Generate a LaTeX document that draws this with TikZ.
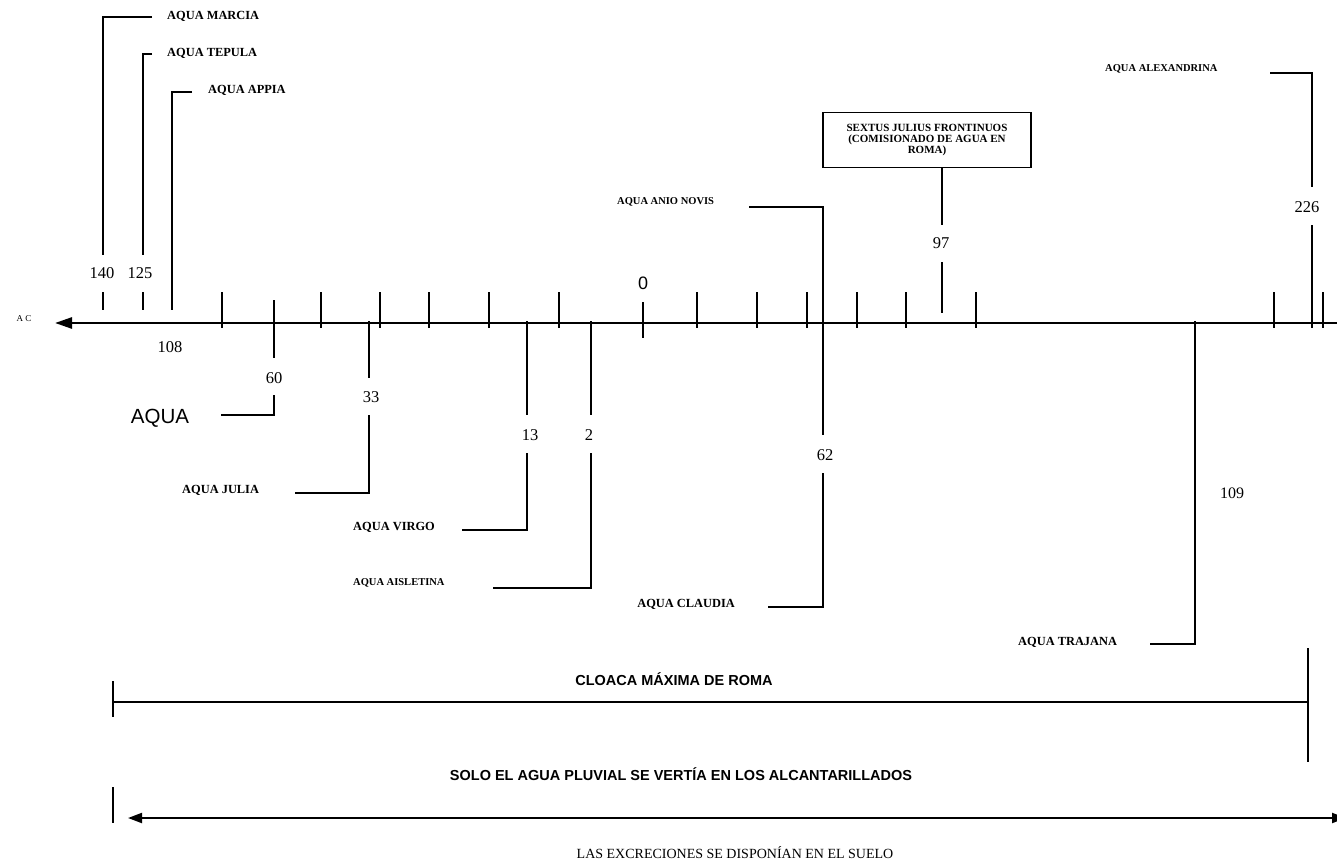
\documentclass[tikz,border=0pt]{standalone}
\usepackage{fontspec}
\setmainfont{Liberation Serif}
\newfontfamily\arial{Liberation Sans}
\usetikzlibrary{arrows.meta}
\begin{document}
\begin{tikzpicture}[x=1pt,y=-1pt,
  ln/.style={line width=1.9pt},
  tln/.style={line width=1.4pt},
  lab/.style={font=\fontsize{12.4}{13}\selectfont\bfseries, inner sep=0pt},
  slab/.style={font=\fontsize{10.5}{11}\selectfont\bfseries, inner sep=0pt},
  num/.style={font=\fontsize{16.5}{17}\selectfont, inner sep=0pt},
  big/.style={font=\arial\fontsize{20.5}{21}\selectfont, inner sep=0pt},
  head/.style={font=\arial\bfseries\fontsize{14.5}{15}\selectfont, inner sep=0pt},
  tick/.style={line width=1.9pt}
]
\useasboundingbox (0,0) rectangle (1337,861);

% ---------- main axis ----------
\coordinate (axR) at (1337,323);
\coordinate (axL) at (55,323);
\draw[line width=2.6pt,-{Triangle[length=17pt,width=11pt]}] (axR) -- (axL);
\node[font=\fontsize{9}{9}\selectfont, inner sep=0pt] (ac) at (24,319) {A C};

\foreach \x in {222,321,380,429,489,559,697,757,807,857,906,976,1274,1323}
  \draw[tick] (\x,292) -- (\x,328);

% ---------- 0 ----------
\draw[tick] (643,302) -- (643,338);
\node[font=\arial\fontsize{18}{18}\selectfont, inner sep=0pt] (n0) at (643,283) {0};

% ---------- upper labels, left ----------
\node[lab, anchor=west] (marcia) at (167,16) {AQUA MARCIA};
\node[lab, anchor=west] (tepula) at (167,53) {AQUA TEPULA};
\node[lab, anchor=west] (appia) at (208,90) {AQUA APPIA};
\node[num] (n140) at (102,273) {140};
\node[num] (n125) at (140,273) {125};
\node[num] (n108) at (170,347) {108};

\coordinate (m1) at (152,17);  \coordinate (m2) at (103,17);
\coordinate (m3) at (103,255); \coordinate (m4) at (103,292); \coordinate (m5) at (103,310);
\draw[ln] (m1) -- (m2) -- (m3);
\draw[ln] (m4) -- (m5);

\coordinate (t1) at (152,54);  \coordinate (t2) at (143,54);
\coordinate (t3) at (143,255); \coordinate (t4) at (143,292); \coordinate (t5) at (143,310);
\draw[ln] (t1) -- (t2) -- (t3);
\draw[ln] (t4) -- (t5);

\coordinate (a1) at (192,92); \coordinate (a2) at (172,92); \coordinate (a3) at (172,310);
\draw[ln] (a1) -- (a2) -- (a3);

% ---------- 60 AQUA ----------
\node[big] (aqua) at (160,418) {AQUA};
\node[num] (n60) at (274,378) {60};
\coordinate (s1) at (274,300); \coordinate (s2) at (274,358);
\coordinate (s3) at (274,395); \coordinate (s4) at (274,415); \coordinate (s5) at (221,415);
\draw[ln] (s1) -- (s2);
\draw[ln] (s3) -- (s4) -- (s5);

% ---------- 33 JULIA ----------
\node[lab, anchor=west] (julia) at (182,490) {AQUA JULIA};
\node[num] (n33) at (371,397) {33};
\coordinate (j1) at (369,321); \coordinate (j2) at (369,378);
\coordinate (j3) at (369,415); \coordinate (j4) at (369,493); \coordinate (j5) at (295,493);
\draw[ln] (j1) -- (j2);
\draw[ln] (j3) -- (j4) -- (j5);

% ---------- 13 VIRGO ----------
\node[lab, anchor=west] (virgo) at (353,527) {AQUA VIRGO};
\node[num] (n13) at (530,435) {13};
\coordinate (v1) at (527,321); \coordinate (v2) at (527,415);
\coordinate (v3) at (527,453); \coordinate (v4) at (527,530); \coordinate (v5) at (462,530);
\draw[ln] (v1) -- (v2);
\draw[ln] (v3) -- (v4) -- (v5);

% ---------- 2 AISLETINA ----------
\node[slab, anchor=west] (aisl) at (353,583) {AQUA AISLETINA};
\node[num] (n2) at (589,435) {2};
\coordinate (i1) at (591,321); \coordinate (i2) at (591,415);
\coordinate (i3) at (591,453); \coordinate (i4) at (591,588); \coordinate (i5) at (493,588);
\draw[ln] (i1) -- (i2);
\draw[ln] (i3) -- (i4) -- (i5);

% ---------- ANIO NOVIS / 62 CLAUDIA ----------
\node[slab, anchor=west] (anio) at (617,202) {AQUA ANIO NOVIS};
\node[lab, anchor=east] (claudia) at (735,604) {AQUA CLAUDIA};
\node[num] (n62) at (825,455) {62};
\coordinate (o1) at (749,207); \coordinate (o2) at (823,207); \coordinate (o3) at (823,435);
\coordinate (o4) at (823,473); \coordinate (o5) at (823,607); \coordinate (o6) at (768,607);
\draw[ln] (o1) -- (o2) -- (o3);
\draw[ln] (o4) -- (o5) -- (o6);

% ---------- 97 FRONTINUS ----------
\node[draw, line width=1.7pt, minimum width=208pt, minimum height=55pt, align=center,
      font=\fontsize{11}{11.2}\selectfont\bfseries, inner sep=0pt] (box) at (927,140)
      {SEXTUS JULIUS FRONTINUOS\\(COMISIONADO DE AGUA EN\\ROMA)};
\node[num] (n97) at (941,243) {97};
\coordinate (f2) at (942,225); \coordinate (f3) at (942,262); \coordinate (f4) at (942,313);
\draw[ln] ([xshift=15pt]box.south) -- (f2);
\draw[ln] (f3) -- (f4);

% ---------- 226 ALEXANDRINA ----------
\node[slab, anchor=west] (alex) at (1105,69) {AQUA ALEXANDRINA};
\node[num] (n226) at (1307,207) {226};
\coordinate (x1) at (1270,73); \coordinate (x2) at (1312,73); \coordinate (x3) at (1312,187);
\coordinate (x4) at (1312,225); \coordinate (x5) at (1312,328);
\draw[ln] (x1) -- (x2) -- (x3);
\draw[ln] (x4) -- (x5);

% ---------- 109 TRAJANA ----------
\node[lab, anchor=west] (trajana) at (1018,642) {AQUA TRAJANA};
\node[font=\fontsize{16}{16}\selectfont, inner sep=0pt] (n109) at (1232,493) {109};
\coordinate (r1) at (1195,321); \coordinate (r2) at (1195,644); \coordinate (r3) at (1150,644);
\draw[ln] (r1) -- (r2) -- (r3);

% ---------- CLOACA ----------
\node[head] (cloaca) at (674,679) {CLOACA MÁXIMA DE ROMA};
\coordinate (c1) at (113,681); \coordinate (c2) at (113,717);
\coordinate (c3) at (113,702); \coordinate (c4) at (1308,702);
\coordinate (c5) at (1308,648); \coordinate (c6) at (1308,762);
\draw[tln] (c1) -- (c2);
\draw[tln] (c3) -- (c4);
\draw[tln] (c5) -- (c6);

% ---------- SOLO EL AGUA ----------
\node[head] (solo) at (681,774) {SOLO EL AGUA PLUVIAL SE VERTÍA EN LOS ALCANTARILLADOS};
\coordinate (p1) at (113,787); \coordinate (p2) at (113,823);
\draw[tln] (p1) -- (p2);
\begin{scope}
  \clip (0,0) rectangle (1337,861);
  \coordinate (q1) at (1346,818); \coordinate (q2) at (128,818);
  \draw[line width=2pt, {Triangle[length=14pt,width=10pt]}-{Triangle[length=14pt,width=10pt]}] (q1) -- (q2);
\end{scope}

\node[font=\fontsize{14}{14}\selectfont, inner sep=0pt] (excr) at (735,853) {LAS EXCRECIONES SE DISPONÍAN EN EL SUELO};
\end{tikzpicture}
\end{document}
